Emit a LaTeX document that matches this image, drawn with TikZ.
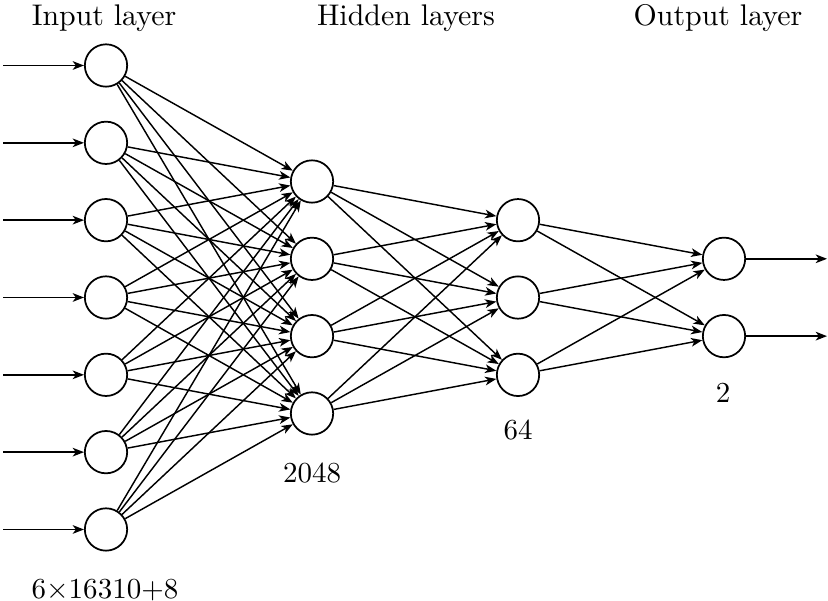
\documentclass[tikz,border=0pt]{standalone}
\usetikzlibrary{arrows.meta}
\begin{document}
\begin{tikzpicture}[x=0.3448pt,y=-0.3448pt,
  neuron/.style={circle,draw,line width=0.6pt,minimum size=14.6pt,inner sep=0pt},
  conn/.style={line width=0.5pt,-{Stealth[length=3.9pt,width=3pt,inset=1.1pt]}},
  title/.style={anchor=base,inner sep=0pt,font=\fontsize{10.3}{12}\selectfont},
  count/.style={anchor=base,inner sep=0pt,font=\fontsize{10}{12}\selectfont}]
\useasboundingbox (0,0) rectangle (828,601);

% input layer
\foreach \i in {1,...,7} {
  \pgfmathsetmacro\yy{65.5+77.33*(\i-1)}
  \node[neuron] (I\i) at (106,\yy) {};
  \coordinate (S\i) at (3,\yy);
}
% first hidden layer
\foreach \i in {1,...,4} {
  \pgfmathsetmacro\yy{181.5+77.33*(\i-1)}
  \node[neuron] (H\i) at (312,\yy) {};
}
% second hidden layer
\foreach \i in {1,...,3} {
  \pgfmathsetmacro\yy{220.2+77.33*(\i-1)}
  \node[neuron] (G\i) at (518,\yy) {};
}
% output layer
\foreach \i in {1,2} {
  \pgfmathsetmacro\yy{258.8+77.33*(\i-1)}
  \node[neuron] (O\i) at (724,\yy) {};
  \coordinate (E\i) at (827,\yy);
}

% connections
\foreach \i in {1,...,7} \draw[conn] (S\i) -- (I\i);
\foreach \i in {1,...,7} \foreach \j in {1,...,4} \draw[conn] (I\i) -- (H\j);
\foreach \i in {1,...,4} \foreach \j in {1,...,3} \draw[conn] (H\i) -- (G\j);
\foreach \i in {1,...,3} \foreach \j in {1,2} \draw[conn] (G\i) -- (O\j);
\foreach \i in {1,2} \draw[conn] (O\i) -- (E\i);

% titles
\node[title] (tin) at (104,26) {Input layer};
\node[title] (thid) at (406,26) {Hidden layers};
\node[title] (tout) at (718,26) {Output layer};

% layer sizes
\node[count] (nin) at (105,598) {$6{\times}16310{+}8$};
\node[count] (nh1) at (312,482) {2048};
\node[count] (nh2) at (518,440) {64};
\node[count] (nout) at (723,402) {2};
\end{tikzpicture}
\end{document}
